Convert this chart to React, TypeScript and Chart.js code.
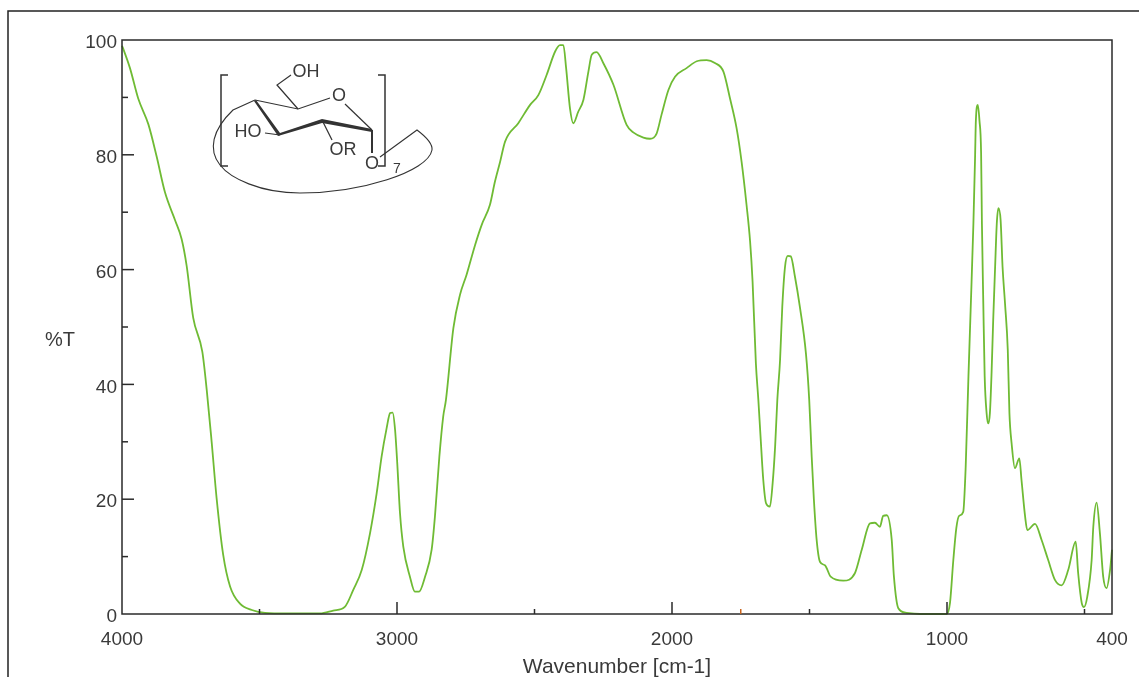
import React, { useEffect, useRef } from "react";
import { Chart, registerables } from "chart.js";

Chart.register(...registerables);

const wavenumbers = [
  4000, 3995, 3971, 3941, 3904, 3874, 3844, 3807, 3783, 3765, 3741, 3708, 3692, 3674, 3656, 3632, 3607, 3571, 3528, 3480,
  3400, 3280, 3232, 3189, 3159, 3128, 3098, 3074, 3056, 3038, 3025, 3016, 3007, 2999, 2989, 2977, 2953, 2935, 2920, 2898,
  2874, 2862, 2846, 2832, 2822, 2795, 2771, 2747, 2716, 2692, 2662, 2644, 2625, 2607, 2559, 2516, 2486, 2456, 2425, 2407,
  2395, 2385, 2371, 2359, 2341, 2322, 2304, 2292, 2274, 2250, 2213, 2165, 2141, 2104, 2080, 2056, 2038, 2013, 1989, 1947,
  1910, 1874, 1844, 1813, 1789, 1765, 1747, 1729, 1716, 1707, 1695, 1686, 1678, 1668, 1658, 1644, 1634, 1625, 1617, 1607,
  1599, 1589, 1579, 1568, 1553, 1535, 1513, 1501, 1492, 1484, 1474, 1462, 1444, 1423, 1377, 1335, 1310, 1280, 1262, 1244,
  1232, 1219, 1201, 1193, 1177, 1147, 1098, 1050, 1001, 989, 977, 966, 956, 941, 932, 922, 914, 904, 898, 895, 888, 882,
  876, 873, 868, 863, 856, 850, 844, 838, 832, 825, 819, 813, 805, 798, 789, 779, 773, 765, 753, 737, 729, 716, 708, 680,
  656, 632, 607, 583, 559, 532, 523, 510, 502, 490, 474, 468, 456, 444, 432, 420, 407, 400,
];
const transmittance = [
  99, 98.4, 95.1, 89.8, 85.3, 79.7, 73.5, 68.6, 65.3, 60.7, 51.6, 45.7, 39.1, 30, 20.2, 10.3, 4.8, 1.8, 0.7, 0.2,
  0.1, 0.1, 0.6, 1.3, 4.2, 7.7, 14.1, 21, 27.4, 32.3, 35, 35.1, 32.1, 26.2, 17.5, 11.7, 6.5, 3.9, 3.9, 6.5,
  11.2, 17, 27.4, 34.4, 37.3, 49.8, 55.6, 59.1, 64.3, 67.8, 71.3, 75.3, 78.8, 82.3, 85.5, 88.7, 90.4, 93.9, 98, 99.1,
  99.1, 95.1, 88.1, 85.5, 87.5, 89.6, 94.5, 97.4, 97.9, 96, 92.2, 85.2, 83.9, 83, 82.8, 83.7, 87, 91.3, 93.6, 95.1,
  96.3, 96.5, 96, 94.5, 89.8, 84.6, 78.8, 71.3, 64.9, 57.9, 43.7, 37.3, 30.9, 23.3, 19.3, 18.7, 22.8, 29.2, 37.3, 44.3,
  53.5, 60.5, 62.4, 62.3, 58.8, 53.5, 45.4, 37.3, 27.4, 19.9, 12.9, 9.1, 8.5, 6.5, 5.8, 7.1, 11.2, 15.8, 15.9, 15.2,
  17.1, 17.2, 12.9, 6.5, 1, 0.2, 0, 0, 0, 2, 9.4, 15, 17.1, 17.8, 25.7, 41.4, 53, 68, 79.4, 86, 88.7, 86,
  80.3, 68, 54.1, 41.4, 35, 33.2, 35, 41.9, 51.2, 60.5, 68, 70.7, 68.6, 60.5, 54.1, 46, 35, 29.7, 25.4, 27.1, 23.3, 17, 14.6, 15.7,
  12.9, 9.4, 5.9, 5, 7.7, 12.6, 7.1, 1.9, 1.2, 3, 9.4, 15.2, 19.4, 14.1, 6.5, 4.5, 7.7, 11.2,
];
const xLabelTicks = [4000, 3000, 2000, 1000, 400];
const yMajorTicks = [0, 20, 40, 60, 80, 100];
const yMinorTicks = [10, 30, 50, 70, 90];
const xMajorMarks = [3000, 2000, 1000];
const xMinorMarks = [3500, 2500, 1500, 500];
const xOrangeMarks = [1750];
const xAxisTitle = "Wavenumber [cm-1]";
const yAxisTitle = "%T";

const INK = "#3a3a3a";
const FONT = "'Liberation Sans', Arial, sans-serif";

const decorPlugin = {
  id: "decor",
  beforeDraw(chart: any) {
    const c = chart.ctx;
    c.save();
    c.fillStyle = "#ffffff";
    c.fillRect(0, 0, chart.width, chart.height);
    c.strokeStyle = "#222";
    c.lineWidth = 1.5;
    c.beginPath();
    c.moveTo(8, 677);
    c.lineTo(8, 11);
    c.lineTo(1139, 11);
    c.stroke();
    c.restore();
  },
  afterDraw(chart: any) {
    const c = chart.ctx;
    const { x, y } = chart.scales;
    const { left, bottom, top, right } = chart.chartArea;
    c.save();
    c.strokeStyle = "#2a2a2a";
    c.lineWidth = 1.5;
    c.strokeRect(left, top, right - left, bottom - top);
    const vTick = (v: number, len: number, color = "#2a2a2a") => {
      const p = x.getPixelForValue(v);
      c.strokeStyle = color;
      c.beginPath();
      c.moveTo(p, bottom);
      c.lineTo(p, bottom - len);
      c.stroke();
    };
    xMajorMarks.forEach((v) => vTick(v, 12));
    xMinorMarks.forEach((v) => vTick(v, 5));
    xOrangeMarks.forEach((v) => vTick(v, 5, "#c8641e"));
    c.strokeStyle = "#2a2a2a";
    const hTick = (v: number, len: number) => {
      const p = y.getPixelForValue(v);
      c.beginPath();
      c.moveTo(left, p);
      c.lineTo(left + len, p);
      c.stroke();
    };
    yMajorTicks.slice(1, -1).forEach((v) => hTick(v, 12));
    yMinorTicks.forEach((v) => hTick(v, 6));

    c.fillStyle = INK;
    c.textBaseline = "middle";
    c.textAlign = "left";
    c.font = `20px ${FONT}`;
    c.fillText(yAxisTitle, 45, 340);

    // structural formula inset
    c.strokeStyle = "#333";
    const line = (pts: number[][], w = 1.2) => {
      c.lineWidth = w;
      c.beginPath();
      pts.forEach((p, i) => (i ? c.lineTo(p[0], p[1]) : c.moveTo(p[0], p[1])));
      c.stroke();
    };
    line([[228, 75], [221, 75], [221, 166], [228, 166]], 1.5);
    line([[378, 75], [385, 75], [385, 166], [378, 166]], 1.5);
    line([[255, 100], [298, 109], [330, 98]]);
    line([[298, 109], [277, 85], [291, 75]]);
    line([[345, 104], [372, 130]]);
    line([[372, 130], [372, 153]], 2);
    line([[322, 120], [332, 140]]);
    line([[265, 133], [280, 135]]);
    c.fillStyle = "#333";
    c.beginPath();
    c.moveTo(372, 129); c.lineTo(322, 119); c.lineTo(280, 133);
    c.lineTo(256, 100); c.lineTo(254, 101); c.lineTo(278, 136);
    c.lineTo(322, 123); c.lineTo(372, 132);
    c.closePath();
    c.fill();
    c.lineWidth = 1.1;
    c.beginPath();
    c.moveTo(380, 157);
    c.lineTo(417, 130);
    c.quadraticCurveTo(433, 142, 432, 150);
    c.bezierCurveTo(428, 172, 360, 193, 300, 193);
    c.bezierCurveTo(260, 193, 230, 178, 220, 165);
    c.bezierCurveTo(208, 150, 212, 130, 233, 110);
    c.lineTo(255, 100);
    c.stroke();
    c.fillStyle = INK;
    c.font = `18px ${FONT}`;
    c.textAlign = "center";
    c.fillText("OH", 306, 72);
    c.fillText("O", 339, 96);
    c.fillText("HO", 248, 132);
    c.fillText("OR", 343, 150);
    c.fillText("O", 372, 164);
    c.font = `14px ${FONT}`;
    c.fillText("7", 397, 169);
    c.restore();
  },
};

export default function App() {
  const ref = useRef<HTMLCanvasElement>(null);
  useEffect(() => {
    const chart = new Chart(ref.current as HTMLCanvasElement, {
      type: "line",
      plugins: [decorPlugin],
      data: {
        datasets: [
          {
            data: wavenumbers.map((w, i) => ({ x: w, y: transmittance[i] })),
            borderColor: "#6fbb34",
            borderWidth: 1.8,
            pointRadius: 0,
            cubicInterpolationMode: "monotone",
            clip: 4,
          } as any,
        ],
      },
      options: {
        animation: false,
        responsive: false,
        layout: { padding: { top: 40, right: 27, left: 0, bottom: 0 } },
        plugins: { legend: { display: false }, tooltip: { enabled: false } },
        scales: {
          x: {
            type: "linear",
            reverse: true,
            min: 400,
            max: 4000,
            afterBuildTicks: (s: any) => {
              s.ticks = xLabelTicks.map((value) => ({ value }));
            },
            afterFit: (s: any) => {
              s.height = 63;
              s.paddingLeft = 0;
              s.paddingRight = 0;
            },
            grid: { display: false, drawTicks: false },
            border: { display: false },
            ticks: {
              autoSkip: false,
              maxRotation: 0,
              padding: 14,
              color: INK,
              font: { family: FONT, size: 19 },
              callback: (v: any) => String(v),
            },
            title: {
              display: true,
              text: xAxisTitle,
              color: INK,
              font: { family: FONT, size: 21 },
              padding: { top: 3, bottom: -3 },
            },
          },
          y: {
            type: "linear",
            min: 0,
            max: 100,
            afterBuildTicks: (s: any) => {
              s.ticks = yMajorTicks.map((value) => ({ value }));
            },
            afterFit: (s: any) => {
              s.width = 122;
              s.paddingTop = 0;
              s.paddingBottom = 0;
            },
            grid: { display: false, drawTicks: false },
            border: { display: false },
            ticks: {
              padding: 5,
              labelOffset: 3,
              color: INK,
              font: { family: FONT, size: 19 },
            },
          },
        },
      },
    } as any);
    return () => chart.destroy();
  }, []);
  return (
    <div style={{ position: "fixed", left: 0, top: 0, width: 1139, height: 677, background: "#fff" }}>
      <canvas ref={ref} width={1139} height={677} style={{ display: "block" }} />
    </div>
  );
}
